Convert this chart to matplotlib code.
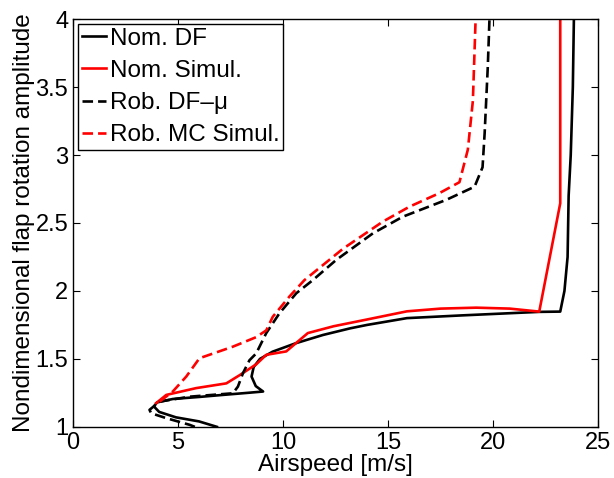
import matplotlib
matplotlib.use("Agg")
import matplotlib.pyplot as plt

plt.rcParams['font.family'] = ['Liberation Sans', 'DejaVu Sans']
plt.rcParams['font.size'] = 17

# Nominal flutter boundary (describing function)
nom_df_v = [6.85, 6.0, 4.9, 4.1, 3.85, 4.0, 4.75, 6.0, 7.13, 8.3, 9.05, 8.7, 8.5,
            8.6, 8.9, 9.5, 10.6, 11.9, 13.2, 14.0, 15.9, 18.5, 22.2, 23.2, 23.4,
            23.55, 23.6, 23.7, 23.8, 23.85]
nom_df_a = [1.0, 1.04, 1.07, 1.11, 1.15, 1.18, 1.205, 1.22, 1.235, 1.25, 1.26, 1.30, 1.37,
            1.44, 1.50, 1.553, 1.615, 1.676, 1.725, 1.75, 1.80, 1.82, 1.846, 1.848, 2.0,
            2.25, 2.7, 3.0, 3.5, 4.0]

# Nominal simulation
nom_sim_v = [3.96, 4.44, 5.86, 7.3, 7.93, 8.72, 9.2, 10.15, 11.18, 12.4, 14.0, 15.9,
             17.5, 19.2, 20.8, 22.2, 23.2, 23.2]
nom_sim_a = [1.175, 1.235, 1.285, 1.32, 1.38, 1.46, 1.53, 1.555, 1.69, 1.74, 1.79, 1.85,
             1.87, 1.877, 1.87, 1.848, 2.645, 4.0]

# Robust boundary (DF - mu analysis)
rob_df_v = [5.8, 5.55, 4.44, 3.72, 3.64, 4.12, 5.55, 7.61, 7.85, 8.09, 8.4, 8.72, 9.2,
            9.83, 10.63, 11.42, 12.53, 14.28, 15.7, 17.77, 19.12, 19.5, 19.6, 19.75, 19.83]
rob_df_a = [1.0, 1.015, 1.064, 1.10, 1.125, 1.186, 1.222, 1.247, 1.296, 1.395, 1.49, 1.54,
            1.69, 1.836, 1.983, 2.08, 2.228, 2.424, 2.546, 2.67, 2.767, 2.91, 3.16, 3.65, 4.0]

# Robust Monte Carlo simulation
rob_mc_v = [4.12, 4.75, 5.39, 6.02, 7.61, 8.72, 9.2, 9.51, 10.31, 11.02, 12.85, 14.75,
            16.02, 17.45, 18.4, 18.8, 19.04, 19.17]
rob_mc_a = [1.186, 1.26, 1.37, 1.505, 1.59, 1.66, 1.71, 1.81, 1.96, 2.08, 2.31, 2.51,
            2.62, 2.72, 2.80, 3.04, 3.4, 4.0]

fig = plt.figure(figsize=(6.14, 4.78), dpi=100)
ax = fig.add_axes([0.119, 0.107, 0.855, 0.853])

lw = 1.9
dash = (0, (4.0, 1.9))
ax.plot(nom_df_v, nom_df_a, color='black', lw=lw, label='Nom. DF')
ax.plot(nom_sim_v, nom_sim_a, color='red', lw=lw, label='Nom. Simul.')
ax.plot(rob_df_v, rob_df_a, color='black', lw=lw, ls=dash, label='Rob. DF\u2013\u03bc')
ax.plot(rob_mc_v, rob_mc_a, color='red', lw=lw, ls=dash, label='Rob. MC Simul.')

ax.set_xlim(0, 25)
ax.set_ylim(1, 4)
ax.set_xticks([0, 5, 10, 15, 20, 25])
ax.set_yticks([1, 1.5, 2, 2.5, 3, 3.5, 4])
ax.set_yticklabels(['1', '1.5', '2', '2.5', '3', '3.5', '4'])
ax.tick_params(direction='in', top=True, right=True, length=5, width=0.8,
               labelsize=17)
ax.tick_params(axis='x', pad=4)
ax.tick_params(axis='y', pad=3.5)
for s in ax.spines.values():
    s.set_linewidth(1.0)

ax.set_xlabel('Airspeed [m/s]', fontsize=17.5, labelpad=0)
ax.set_ylabel('Nondimensional flap rotation amplitude', fontsize=17.5, labelpad=0)

leg = ax.legend(loc='upper left', fontsize=17.5, handlelength=1.0, handletextpad=0.15,
                labelspacing=0.42, borderpad=0.15, borderaxespad=0.2,
                fancybox=False, framealpha=1)
leg.get_frame().set_edgecolor('black')
leg.get_frame().set_linewidth(1.0)

fig.savefig('out.png', dpi=100)
